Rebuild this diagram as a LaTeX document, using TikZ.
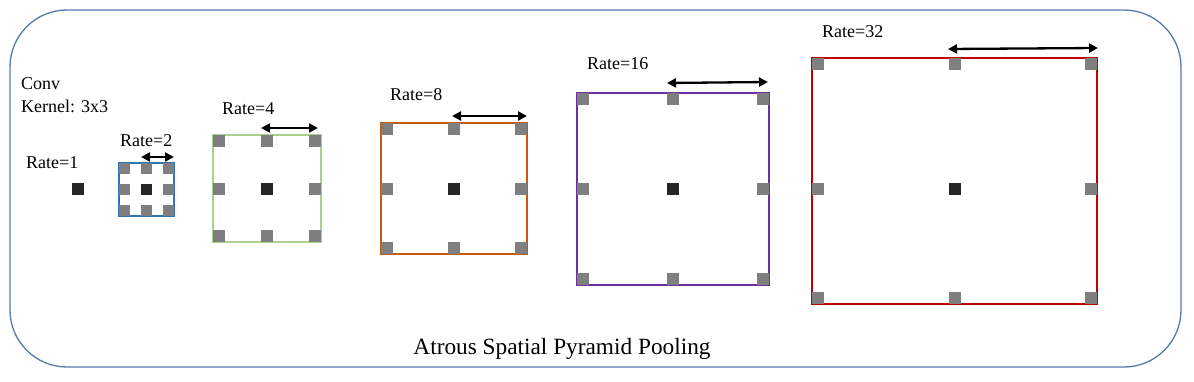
\documentclass[tikz,border=0pt]{standalone}
\usepackage{fontspec}
\setmainfont{Liberation Serif}
\usetikzlibrary{arrows.meta}
\definecolor{frameblue}{RGB}{84,123,168}
\definecolor{sqgray}{RGB}{127,127,127}
\definecolor{sqdark}{RGB}{38,38,38}
\definecolor{bblue}{RGB}{46,117,182}
\definecolor{bgreen}{RGB}{169,209,142}
\definecolor{borange}{RGB}{197,90,17}
\definecolor{bpurple}{RGB}{112,48,160}
\definecolor{bred}{RGB}{192,0,0}
\tikzset{
  sq/.style={fill=sqgray, minimum size=#1, inner sep=0pt, outer sep=0pt},
  sq/.default=12pt,
  ctr/.style={fill=sqdark, minimum size=12pt, inner sep=0pt, outer sep=0pt},
  lbl/.style={anchor=base west, inner sep=0pt, font=\fontsize{18}{20}\selectfont},
  dimarrow/.style={line width=2.3pt, {Triangle[length=9pt,width=9pt]}-{Triangle[length=9pt,width=9pt]}},
  boxline/.style={line width=1.1pt}
}
% \kgrid{name}{x1}{x2}{x3}{y1}{y2}{y3}{size}{color}
\newcommand{\kgrid}[9]{%
  \coordinate (#1-nw) at (#2-#8/2,#5-#8/2);
  \coordinate (#1-se) at (#4+#8/2,#7+#8/2);
  \draw[boxline, draw=#9] (#1-nw) rectangle (#1-se);
  \node[sq=#8pt] (#1-11) at (#2,#5) {};
  \node[sq=#8pt] (#1-21) at (#3,#5) {};
  \node[sq=#8pt] (#1-31) at (#4,#5) {};
  \node[sq=#8pt] (#1-12) at (#2,#6) {};
  \node[ctr, minimum size=#8pt] (#1-22) at (#3,#6) {};
  \node[sq=#8pt] (#1-32) at (#4,#6) {};
  \node[sq=#8pt] (#1-13) at (#2,#7) {};
  \node[sq=#8pt] (#1-23) at (#3,#7) {};
  \node[sq=#8pt] (#1-33) at (#4,#7) {};
}
\begin{document}
\begin{tikzpicture}[x=1pt,y=-1pt]
\useasboundingbox (0,0) rectangle (1194,382);
\draw[frameblue, line width=1.3pt, rounded corners=57pt] (10,10) rectangle (1181,367);

% texts
\node[lbl] (conv) at (21,90) {Conv};
\node[lbl] (kern) at (21,113) {Kernel: 3x3};
\node[lbl] (r1) at (26,169) {Rate=1};
\node[lbl] (r2) at (120,147) {Rate=2};
\node[lbl] (r4) at (222,115) {Rate=4};
\node[lbl] (r8) at (390,101) {Rate=8};
\node[lbl] (r16) at (587,70) {Rate=16};
\node[lbl] (r32) at (822,38) {Rate=32};
\node[anchor=base, inner sep=0pt, font=\fontsize{23.3}{26}\selectfont] (title) at (562,354) {Atrous Spatial Pyramid Pooling};

% rate 1
\node[ctr, minimum size=12pt] (k1) at (78,189) {};

% grids
\kgrid{k2}{124.5}{146.5}{168.5}{168.5}{189.5}{210.5}{11}{bblue}
\kgrid{k4}{219}{267}{315}{141}{189}{236}{12}{bgreen}
\kgrid{k8}{387}{454}{521}{129}{189}{248}{12}{borange}
\kgrid{k16}{583}{673}{763}{99}{189}{279}{12}{bpurple}
\kgrid{k32}{818}{955}{1091}{64}{189}{298}{12}{bred}

% arrows
\coordinate (a2s) at (141,157); \coordinate (a2e) at (174,157);
\coordinate (a4s) at (261,128); \coordinate (a4e) at (318,128);
\coordinate (a8s) at (452,116); \coordinate (a8e) at (527,116);
\coordinate (a16s) at (667,83); \coordinate (a16e) at (768,82);
\coordinate (a32s) at (948,49); \coordinate (a32e) at (1098,48);
\draw[dimarrow] (a2s) -- (a2e);
\draw[dimarrow] (a4s) -- (a4e);
\draw[dimarrow] (a8s) -- (a8e);
\draw[dimarrow] (a16s) -- (a16e);
\draw[dimarrow] (a32s) -- (a32e);
\end{tikzpicture}
\end{document}
